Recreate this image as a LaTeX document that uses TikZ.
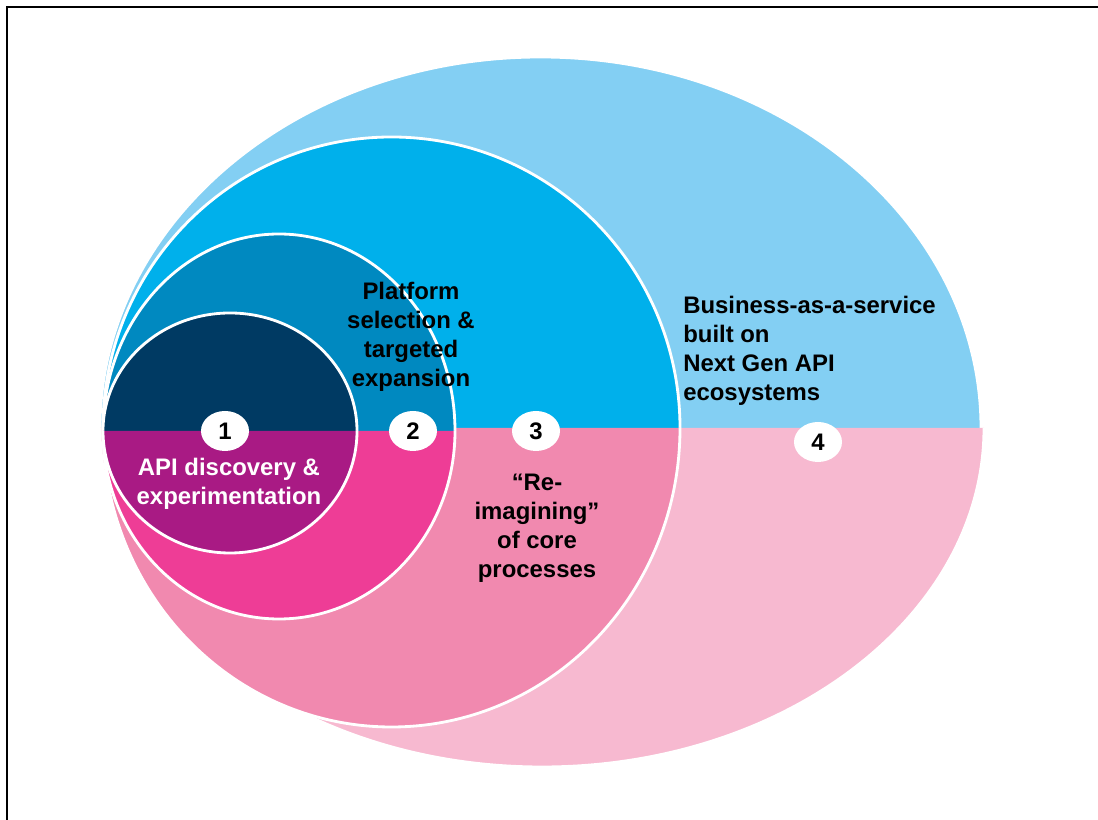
\documentclass[tikz,border=0pt]{standalone}
\usepackage{fontspec}
\setmainfont{Liberation Sans}
\usepackage{tikz}
\usepackage{xcolor}
\usetikzlibrary{shapes.geometric}
\definecolor{sky}{HTML}{83CFF3}
\definecolor{azure}{HTML}{00B0EB}
\definecolor{ocean}{HTML}{0089C0}
\definecolor{navy}{HTML}{003A63}
\definecolor{blush}{HTML}{F7B9D0}
\definecolor{rose}{HTML}{F189AF}
\definecolor{magenta}{HTML}{EE3D96}
\definecolor{plum}{HTML}{A91A84}
\tikzset{
  rim/.style={draw=white, line width=2pt},
  frame/.style={draw=black, line width=1.4pt},
  badge/.style={ellipse, fill=white, minimum width=1.2cm, minimum height=1cm,
                inner sep=0pt, font=\fontsize{17}{20}\selectfont\bfseries},
  phase/.style={align=center, inner sep=0pt,
                font=\fontsize{17}{20.6}\selectfont\bfseries}
}

\begin{document}
\begin{tikzpicture}[x=0.025cm,y=0.025cm]
        \useasboundingbox (0,0) rectangle (1098,820);
        % page frame (only top and left edges fall inside)
        \draw[frame] (7,0) -- (7,813) -- (1098,813);
        % nested stages: blue upper half, pink lower half, outer one first
        \foreach \lx/\base/\rxt/\ryt/\rxb/\ryb/\ctop/\cbot in {
            100/392/440.5/371/442/339/sky/blush,
            103/392/288.5/291/288.5/299/azure/rose,
            103/389/176/197/176/188/ocean/magenta,
            103/389/127/118/127/122/navy/plum} {
          \fill[\ctop] (\lx,\base) arc[start angle=180,end angle=0,x radius=\rxt,y radius=\ryt] -- cycle;
          \draw[rim] (\lx,\base) arc[start angle=180,end angle=0,x radius=\rxt,y radius=\ryt];
          \fill[\cbot] (\lx,\base) arc[start angle=180,end angle=360,x radius=\rxb,y radius=\ryb] -- cycle;
          \draw[rim] (\lx,\base) arc[start angle=180,end angle=360,x radius=\rxb,y radius=\ryb];
        }
        % stage numbers
        \node[badge] (b1) at (225,389) {1};
        \node[badge] (b2) at (413,389) {2};
        \node[badge] (b3) at (536,389) {3};
        \node[badge] (b4) at (818,378) {4};
        % stage texts
        \node[phase,text=white] (discovery) at (229,336) {API discovery \&\\experimentation};
        \node[phase] (platform) at (411,483) {Platform\\selection \&\\targeted\\expansion};
        \node[phase] (reimagine) at (537,292) {“Re-\\imagining”\\of core\\processes};
        \node[phase,align=left,anchor=west] (business) at (683,469) {Business-as-a-service\\built on\\Next Gen API\\ecosystems};
      \end{tikzpicture}
\end{document}
